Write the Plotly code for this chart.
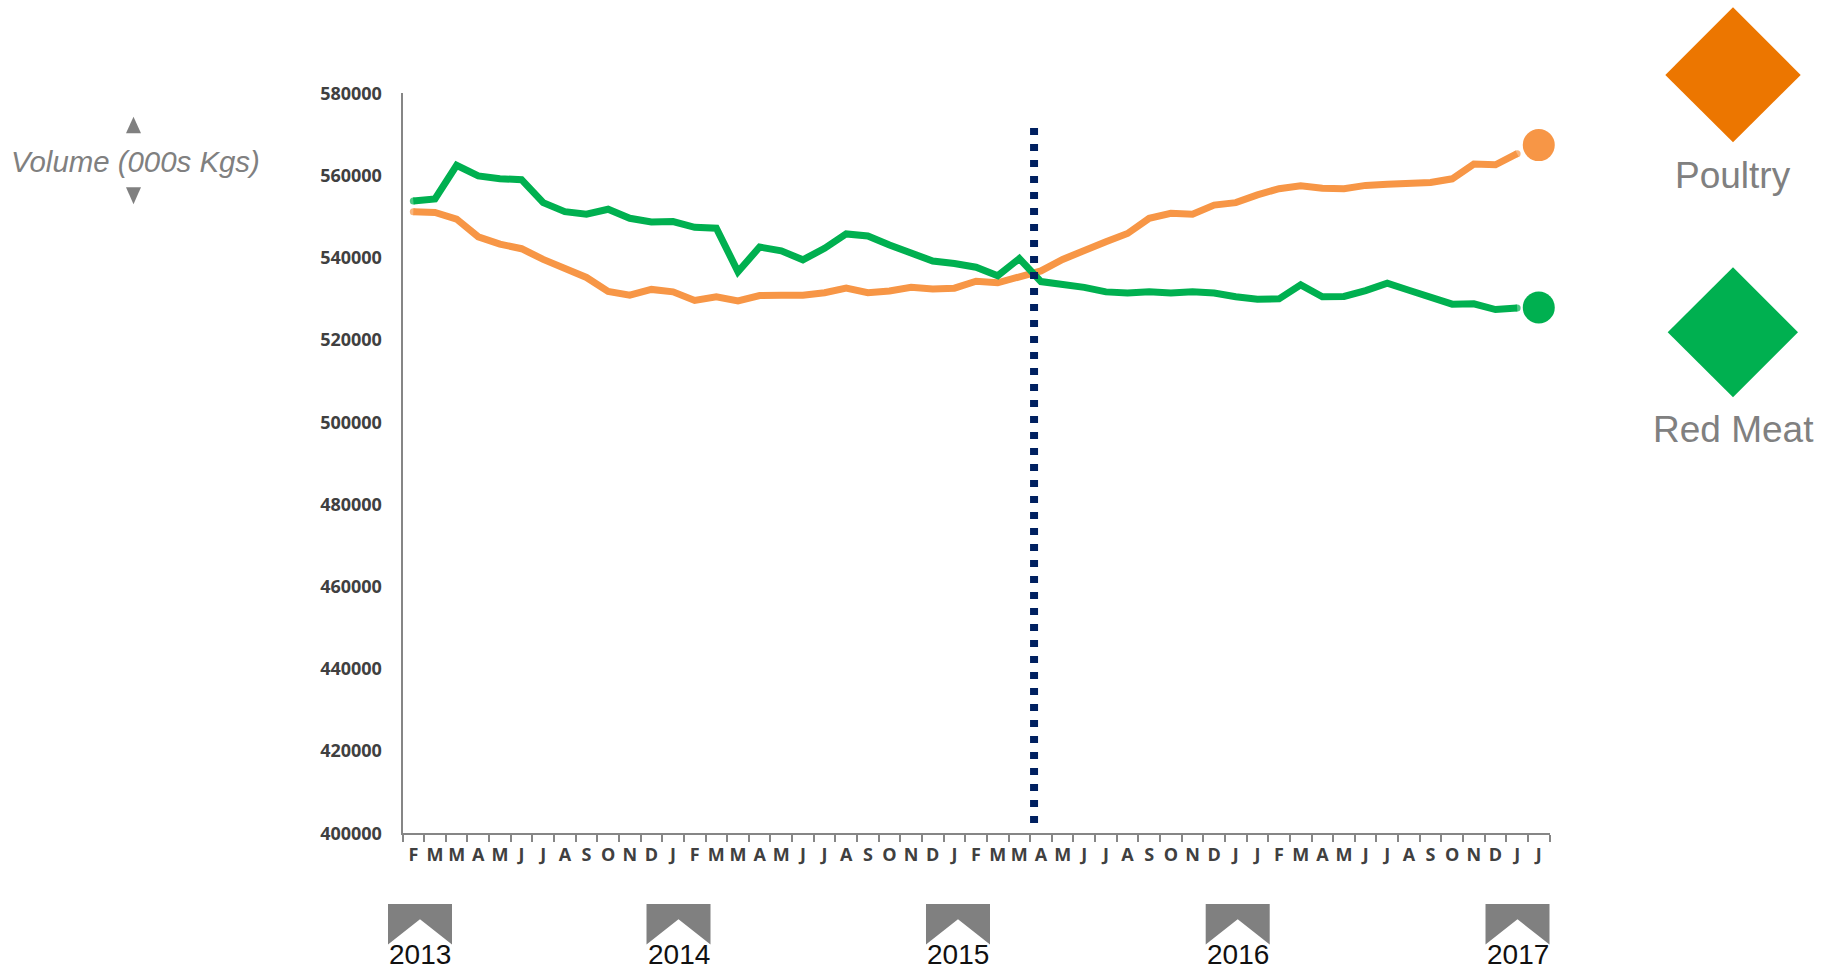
import plotly.graph_objects as go

WIDTH, HEIGHT = 1831, 969

month_labels = list("FMMAMJJASOND") + list("JFMMAMJJASOND") + list("JFMMAMJJASOND") + list("JJFMAMJJASOND") + list("JJ")
category_keys = [f"{i:02d}-{m}" for i, m in enumerate(month_labels)]

poultry = [
    551200, 551000, 549400, 545100, 543300, 542200, 539600, 537300, 535200, 531800,
    530900, 532300, 531700, 529600, 530500, 529500, 530800, 530900, 530900, 531500,
    532600, 531500, 531900, 532800, 532400, 532600, 534300, 533900, 535200, 536800,
    539600, 541900, 543900, 545900, 549600, 550800, 550600, 552800, 553400, 555300,
    556800, 557500, 556900, 556800, 557600, 557900, 558300, 558300, 559200, 562800,
    562600, 565300,
]
red_meat = [
    553800, 554300, 562500, 559900, 559200, 559000, 553400, 551200, 550600, 551800,
    549600, 548700, 548800, 547400, 547200, 536600, 542600, 541700, 539500, 542300,
    545800, 545300, 543100, 541100, 539200, 538600, 537700, 535600, 539800, 534200,
    533600, 532800, 531700, 531400, 531700, 531400, 531700, 531400, 530500, 529900,
    530000, 533400, 530500, 530600, 532000, 533800, 532100, 530500, 528700, 528800,
    527400, 527800,
]
poultry_latest = 567400
red_meat_latest = 527900

y_ticks = list(range(400000, 580001, 20000))
year_labels = ["2013", "2014", "2015", "2016", "2017"]

ORANGE = "#F79646"
GREEN = "#00B050"
GREY = "#808080"
NAVY = "#002060"

# Plot area in pixels
LEFT, RIGHT, TOP, BOTTOM = 402.5, 1549.6, 93.3, 833.3


def px(x):
    return x / WIDTH


def py(y):
    return 1 - y / HEIGHT


def polygon(points):
    """Closed SVG path in paper coordinates from pixel corner points."""
    head, *rest = points
    path = f"M {px(head[0]):.5f} {py(head[1]):.5f} "
    path += " ".join(f"L {px(x):.5f} {py(y):.5f}" for x, y in rest)
    return path + " Z"


def solid(points, color):
    return dict(type="path", xref="paper", yref="paper", path=polygon(points),
                fillcolor=color, line=dict(width=0), layer="above")


def end_caps(n, size):
    return [size] + [0] * (n - 2) + [size]


fig = go.Figure()

for name, values, latest, color in [
    ("Poultry", poultry, poultry_latest, ORANGE),
    ("Red Meat", red_meat, red_meat_latest, GREEN),
]:
    fig.add_trace(go.Scatter(
        x=category_keys[:len(values)], y=values, name=name, mode="lines+markers",
        line=dict(color=color, width=7),
        marker=dict(color=color, size=end_caps(len(values), 7), line=dict(width=0)),
        showlegend=False,
    ))
    fig.add_trace(go.Scatter(
        x=[category_keys[-1]], y=[latest], mode="markers",
        marker=dict(color=color, size=32, line=dict(width=0)),
        showlegend=False, cliponaxis=False,
    ))

shapes = [
    # Dotted divider between the two periods
    dict(type="line", xref="x", yref="y", x0=28.68, x1=28.68, y0=402500, y1=571600,
         line=dict(color=NAVY, width=8, dash="7px,9px"), layer="above"),
    # Axis arrows beside the volume caption
    solid([(126, 133.3), (141, 133.3), (133.5, 116.7)], GREY),
    solid([(126, 187.3), (141, 187.3), (133.5, 204.3)], GREY),
    # Key diamonds
    solid([(1665.3, 75), (1733, 7.3), (1800.7, 75), (1733, 142.3)], "#EC7600"),
    solid([(1667.7, 332.3), (1733, 267.3), (1798, 332.3), (1733, 397.3)], GREEN),
]

annotations = [
    dict(text="<i>Volume (000s Kgs)</i>", x=px(135), y=py(162),
         font=dict(family="Liberation Sans", size=29.4, color=GREY)),
    dict(text="Poultry", x=px(1733.3), y=py(175.5),
         font=dict(family="Liberation Sans", size=37, color=GREY)),
    dict(text="Red Meat", x=px(1733.3), y=py(429.5),
         font=dict(family="Liberation Sans", size=37, color=GREY)),
]

# Year markers under the month axis
year_centers = [420, 678.5, 958, 1237.7, 1517.5]
for label, cx in zip(year_labels, year_centers):
    half = 32
    shapes.append(solid([(cx - half, 904), (cx + half, 904), (cx + half, 944.5),
                         (cx, 919.3), (cx - half, 944.5)], GREY))
    annotations.append(dict(text=label, x=px(cx), y=py(954),
                            font=dict(family="Liberation Sans", size=28, color="#111111")))

for a in annotations:
    a.update(xref="paper", yref="paper", xanchor="center", yanchor="middle", showarrow=False)

TICK_FONT = dict(family="Open Sans", size=18, color="#404040", weight=700)

fig.update_layout(
    width=WIDTH, height=HEIGHT,
    margin=dict(l=0, r=0, t=0, b=0, pad=0, autoexpand=False),
    paper_bgcolor="white", plot_bgcolor="white",
    shapes=shapes, annotations=annotations,
    xaxis=dict(
        domain=[px(LEFT), px(RIGHT)],
        type="category", categoryorder="array", categoryarray=category_keys,
        range=[-0.5, len(category_keys) - 0.5],
        tickmode="array", tickvals=category_keys, ticktext=month_labels,
        tickson="boundaries", ticks="outside", ticklen=7, tickwidth=1.5, tickcolor="#868686",
        ticklabelstandoff=4, tickangle=0, tickfont=TICK_FONT,
        showgrid=False, zeroline=False, showline=True, linecolor="#868686", linewidth=2,
    ),
    yaxis=dict(
        domain=[py(BOTTOM), py(TOP)],
        range=[y_ticks[0], y_ticks[-1]],
        tickmode="array", tickvals=y_ticks, ticktext=[str(v) for v in y_ticks],
        ticks="", ticklabelstandoff=15, tickfont=TICK_FONT,
        showgrid=False, zeroline=False, showline=True, linecolor="#868686", linewidth=2,
    ),
)

fig.write_html("out.html")
